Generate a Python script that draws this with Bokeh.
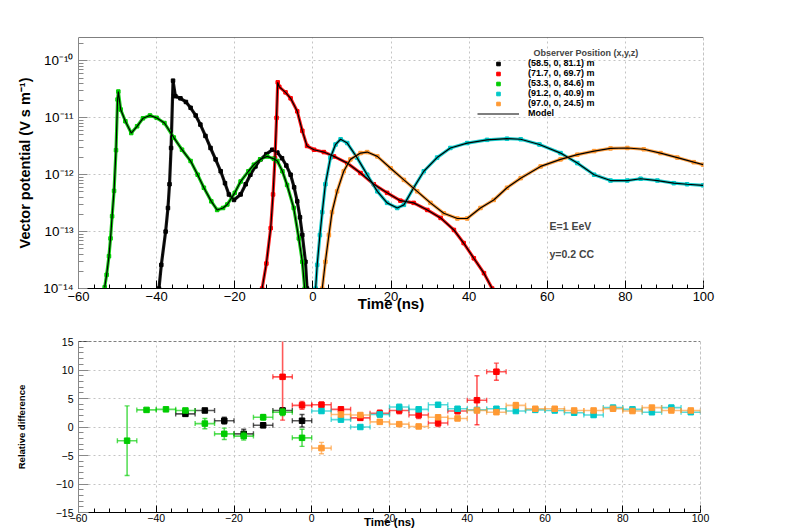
from bokeh.plotting import figure
from bokeh.models import (ColumnDataSource, Range1d, FixedTicker, CustomJSTickFormatter,
                          Legend, LegendItem, Label, Span)
from bokeh.layouts import column
from bokeh.embed import file_html
from bokeh.resources import INLINE

FONT = "Liberation Sans"

# ---------------- data ----------------
observers = ["(58.5, 0, 81.1) m", "(71.7, 0, 69.7) m", "(53.3, 0, 84.6) m",
             "(91.2, 0, 40.9) m", "(97.0, 0, 24.5) m"]
colors = ["#000000", "#ff0000", "#00cc00", "#00c8c8", "#ff9933"]

# top panel: time (ns) and vector potential (V s m^-1)
t_obs1 = [-39.4, -38.8, -37.7, -37.1, -36.7, -36.3, -35.8, -35.2, -33.9, -32.5, -31.3, -30.0,
          -28.8, -27.5, -26.2, -24.9, -23.6, -22.5, -21.5, -20.2, -18.5, -17.2, -16.0, -14.7,
          -13.4, -11.9, -10.4, -9.1, -7.9, -6.8, -5.7, -4.8, -4.0, -3.3, -2.7, -1.9, -1.5]
a_obs1 = [1.0e-14, 2.6e-14, 1.0e-13, 2.6e-13, 6.8e-13, 2.95e-12, 4.5e-11, 2.4e-11, 2.2e-11,
          1.9e-11, 1.5e-11, 1.1e-11, 7.6e-12, 4.8e-12, 2.95e-12, 1.86e-12, 1.15e-12, 7.1e-13,
          4.5e-13, 3.6e-13, 4.5e-13, 6.8e-13, 1.0e-12, 1.4e-12, 1.86e-12, 2.3e-12, 2.75e-12,
          2.45e-12, 1.95e-12, 1.45e-12, 1.0e-12, 6.0e-13, 3.4e-13, 1.78e-13, 8.7e-14, 2.95e-14,
          1.0e-14]

t_obs2 = [-13.0, -11.9, -10.8, -10.2, -9.7, -9.3, -9.0, -8.6, -7.0, -5.7, -4.0, -2.7, -1.5,
          0.3, 2.8, 5.4, 8.8, 12.2, 15.6, 19.0, 22.4, 25.8, 29.3, 32.7, 36.1, 38.6, 41.2,
          43.8, 45.9]
a_obs2 = [1.0e-14, 2.75e-14, 1.15e-13, 4.5e-13, 1.95e-12, 1.0e-11, 4.2e-11, 3.5e-11, 2.8e-11,
          2.2e-11, 1.3e-11, 5.9e-12, 3.2e-12, 2.75e-12, 2.5e-12, 2.1e-12, 1.6e-12, 1.07e-12,
          6.8e-13, 4.8e-13, 3.5e-13, 3.2e-13, 2.4e-13, 1.74e-13, 1.07e-13, 6.3e-14, 3.4e-14,
          1.86e-14, 1.0e-14]

t_obs3 = [-53.3, -52.8, -52.2, -51.8, -51.4, -50.9, -50.4, -50.0, -49.8, -49.2, -48.0, -46.5,
          -45.0, -43.5, -41.7, -40.0, -38.0, -35.6, -33.5, -31.3, -29.5, -27.9, -26.0, -24.5,
          -23.0, -21.9, -20.0, -18.5, -16.5, -15.1, -13.5, -11.7, -10.0, -9.1, -7.8, -6.6,
          -4.9, -3.6, -2.7, -2.1]
a_obs3 = [1.05e-14, 1.74e-14, 3.7e-14, 7.6e-14, 1.86e-13, 5.2e-13, 2.7e-12, 2.1e-11, 2.9e-11,
          1.4e-11, 8.7e-12, 5.4e-12, 7.1e-12, 9.8e-12, 1.1e-11, 1.0e-11, 8.1e-12, 4.5e-12,
          2.75e-12, 1.74e-12, 1.0e-12, 5.9e-13, 3.4e-13, 2.4e-13, 2.6e-13, 3.0e-13, 4.8e-13,
          7.6e-13, 1.15e-12, 1.5e-12, 1.86e-12, 2.1e-12, 1.9e-12, 1.74e-12, 1.15e-12, 6.6e-13,
          2.6e-13, 7.6e-14, 2.95e-14, 1.0e-14]

t_obs4 = [0.7, 1.1, 1.8, 2.4, 3.2, 4.5, 5.8, 7.1, 8.8, 11.3, 13.9, 16.5, 19.0, 21.6, 23.3,
          25.8, 28.4, 31.8, 35.2, 39.5, 44.6, 49.7, 53.2, 58.0, 63.4, 67.7, 72.0, 76.2, 80.5,
          83.9, 88.2, 92.4, 95.8, 99.9]
a_obs4 = [1.0e-14, 2.6e-14, 8.7e-14, 2.2e-13, 6.8e-13, 2.0e-12, 3.4e-12, 4.2e-12, 3.6e-12,
          2.0e-12, 1.0e-12, 5.1e-13, 3.2e-13, 2.6e-13, 2.95e-13, 5.9e-13, 1.15e-12, 2.0e-12,
          2.95e-12, 3.6e-12, 4.1e-12, 4.3e-12, 4.2e-12, 3.4e-12, 2.4e-12, 1.6e-12, 1.0e-12,
          7.9e-13, 7.9e-13, 8.5e-13, 7.9e-13, 7.1e-13, 6.8e-13, 6.5e-13]

t_obs5 = [2.4, 3.2, 4.1, 4.9, 6.2, 7.9, 9.6, 12.2, 13.9, 16.5, 19.9, 23.3, 26.7, 30.1, 33.5,
          37.0, 39.5, 42.9, 46.3, 49.7, 53.2, 58.3, 63.4, 67.7, 72.0, 76.2, 80.5, 84.7, 89.0,
          93.3, 97.5, 99.9]
a_obs5 = [1.0e-14, 2.95e-14, 8.7e-14, 2.2e-13, 5.1e-13, 1.15e-12, 1.86e-12, 2.4e-12, 2.5e-12,
          2.1e-12, 1.3e-12, 8.1e-13, 5.1e-13, 3.2e-13, 2.1e-13, 1.7e-13, 1.7e-13, 2.6e-13,
          3.6e-13, 5.9e-13, 8.7e-13, 1.4e-12, 1.86e-12, 2.25e-12, 2.6e-12, 2.9e-12, 2.95e-12,
          2.8e-12, 2.4e-12, 2.0e-12, 1.66e-12, 1.5e-12]

# bottom panel: relative difference per 5 ns bin (bin centre, value, error)
bin_half_width = 2.5
rt_obs1 = [-32.5, -27.5, -22.5, -17.5, -12.5, -7.5, -2.5]
rd_obs1 = [2.3, 2.9, 1.1, -1.2, 0.3, 2.9, 1.1]
re_obs1 = [0.3, 0.3, 0.6, 0.8, 0.4, 0.4, 1.1]

rt_obs2 = [-7.5, -2.5, 2.5, 7.5, 12.5, 17.5, 22.5, 27.5, 32.5, 37.5, 42.5, 47.5]
rd_obs2 = [8.8, 3.8, 3.9, 3.1, 1.6, 2.4, 2.9, 2.1, 0.7, 2.8, 4.7, 9.7]
re_obs2 = [7.6, 0.7, 0.5, 0.4, 0.4, 0.6, 0.6, 0.6, 0.6, 0.5, 4.3, 1.5]

rt_obs3 = [-47.5, -42.5, -37.5, -32.5, -27.5, -22.5, -17.5, -12.5, -7.5, -2.5]
rd_obs3 = [-2.4, 3.0, 3.1, 2.9, 0.6, -1.2, -1.6, 1.7, 2.6, -1.9]
re_obs3 = [6.1, 0.3, 0.3, 0.3, 0.9, 1.0, 0.7, 0.5, 0.6, 1.5]

rt_obs4 = [2.5, 7.5, 12.5, 17.5, 22.5, 27.5, 32.5, 37.5, 42.5, 47.5, 52.5, 57.5, 62.5, 67.5,
           72.5, 77.5, 82.5, 87.5, 92.5, 97.5]
rd_obs4 = [2.8, 1.3, 0.0, 2.2, 3.5, 3.1, 3.9, 3.2, 3.0, 3.2, 2.8, 3.0, 2.9, 2.5, 2.1, 3.4,
           3.1, 2.6, 3.4, 2.6]
re_obs4 = [0.4, 0.4, 0.3, 0.4, 0.5, 0.4, 0.2, 0.3, 0.3, 0.3, 0.2, 0.2, 0.3, 0.3, 0.4, 0.3,
           0.3, 0.4, 0.4, 0.3]

rt_obs5 = [2.5, 7.5, 12.5, 17.5, 22.5, 27.5, 32.5, 37.5, 42.5, 47.5, 52.5, 57.5, 62.5, 67.5,
           72.5, 77.5, 82.5, 87.5, 92.5, 97.5]
rd_obs5 = [-3.7, 2.2, 2.1, 0.9, 0.5, 0.1, 1.7, 1.5, 2.9, 2.6, 3.8, 3.2, 3.2, 2.9, 2.9, 3.2,
           2.8, 3.4, 2.9, 2.9]
re_obs5 = [1.0, 0.4, 0.3, 0.3, 0.3, 0.3, 0.3, 0.3, 0.3, 0.3, 0.5, 0.3, 0.3, 0.3, 0.3, 0.3,
           0.3, 0.3, 0.3, 0.3]

x_ticks = [-60, -40, -20, 0, 20, 40, 60, 80, 100]
y_ticks_top = [1e-14, 1e-13, 1e-12, 1e-11, 1e-10]
y_ticks_bottom = [-15, -10, -5, 0, 5, 10, 15]

top_series = [(t_obs1, a_obs1), (t_obs2, a_obs2), (t_obs3, a_obs3), (t_obs4, a_obs4), (t_obs5, a_obs5)]
bottom_series = [(rt_obs1, rd_obs1, re_obs1), (rt_obs2, rd_obs2, re_obs2), (rt_obs3, rd_obs3, re_obs3),
                 (rt_obs4, rd_obs4, re_obs4), (rt_obs5, rd_obs5, re_obs5)]

# ---------------- styling helpers ----------------
def style_axis(ax, color, major_in, minor_in, font_size):
    ax.axis_line_color = color
    ax.major_tick_line_color = color
    ax.minor_tick_line_color = color
    ax.major_tick_in = major_in
    ax.major_tick_out = 0
    ax.minor_tick_in = minor_in
    ax.minor_tick_out = 0
    ax.major_label_text_font = FONT
    ax.major_label_text_font_size = font_size
    ax.major_label_text_color = "black"
    ax.axis_label_text_font = FONT
    ax.axis_label_text_font_style = "bold"
    ax.axis_label_text_color = "black"


def style_grid(p):
    for g in (p.xgrid, p.ygrid):
        g.grid_line_color = "#c4c4c4"
        g.grid_line_dash = "2 3"
        g.grid_line_width = 1


# ---------------- top panel ----------------
p1 = figure(frame_width=625, frame_height=251, min_border_left=78, min_border_right=65,
            min_border_top=37, min_border_bottom=25,
            x_range=Range1d(-60, 100), y_range=Range1d(1e-14, 2.58e-10), y_axis_type="log",
            output_backend="svg", toolbar_location=None)
p1.outline_line_color = None
p1.background_fill_color = "white"
p1.border_fill_color = "white"
style_grid(p1)

minor_x = list(range(-60, 101, 4))
p1.xaxis.ticker = FixedTicker(ticks=x_ticks, minor_ticks=minor_x)
minor_y = [k * 10.0 ** e for e in range(-14, -9) for k in range(2, 10)]
p1.yaxis.ticker = FixedTicker(ticks=y_ticks_top, minor_ticks=minor_y)
p1.yaxis.formatter = CustomJSTickFormatter(code="""
const e = Math.round(Math.log10(tick));
const m = {"-": "\u207b", "0": "\u2070", "1": "\u00b9", "2": "\u00b2", "3": "\u00b3",
           "4": "\u2074", "5": "\u2075", "6": "\u2076", "7": "\u2077", "8": "\u2078", "9": "\u2079"};
return "10" + String(e).split("").map(c => m[c]).join("");
""")
style_axis(p1.xaxis[0], "black", 8, 4, "13px")
style_axis(p1.yaxis[0], "#888888", 9, 5, "13.5px")
p1.xaxis.major_label_standoff = 3
p1.yaxis.major_label_standoff = 5
p1.xaxis.axis_label = "Time (ns)"
p1.xaxis.axis_label_text_font_size = "15px"
p1.xaxis.axis_label_standoff = -9
p1.yaxis.axis_label = "Vector potential (V s m\u207b\u00b9)"
p1.yaxis.axis_label_text_font_size = "14.5px"
p1.yaxis.axis_label_standoff = 7

point_renderers = []
model_renderers = []
sources = []
for (t, a), c in zip(top_series, colors):
    src = ColumnDataSource(dict(t=t, a=a))
    sources.append(src)
    p1.line("t", "a", source=src, line_color=c, line_width=3.2, line_alpha=0.9)
    r = p1.scatter("t", "a", source=src, marker="square", size=3.5, color=c)
    point_renderers.append(r)
for src in sources:
    m = p1.line("t", "a", source=src, line_color="black", line_width=1.2)
    model_renderers.append(m)

p1.add_layout(Span(location=100, dimension="height", line_color="#888888",
                   line_dash="3 2", line_width=1))
p1.add_layout(Span(location=2.58e-10, dimension="width", line_color="black", line_width=1.2))

items = [LegendItem(label=lab, renderers=[r]) for lab, r in zip(observers, point_renderers)]
items.append(LegendItem(label="Model", renderers=[model_renderers[0]]))
legend = Legend(items=items, location=(399, 170), orientation="vertical",
                glyph_width=42, glyph_height=9, label_height=9, spacing=0,
                padding=0, margin=0, label_standoff=9,
                border_line_color=None, background_fill_alpha=0.0,
                label_text_font=FONT, label_text_font_style="bold",
                label_text_font_size="9px", label_text_color="black")
p1.add_layout(legend)

p1.add_layout(Label(x=455, y=236, x_units="screen", y_units="screen",
                    text="Observer Position (x,y,z)", text_font=FONT,
                    text_font_style="bold", text_font_size="9px", text_baseline="middle"))
p1.add_layout(Label(x=471, y=63, x_units="screen", y_units="screen", text="E=1 EeV",
                    text_font=FONT, text_font_style="bold", text_font_size="10.5px",
                    text_baseline="middle"))
p1.add_layout(Label(x=471, y=35, x_units="screen", y_units="screen", text="y=0.2 CC",
                    text_font=FONT, text_font_style="bold", text_font_size="10.5px",
                    text_baseline="middle"))

# ---------------- bottom panel ----------------
p2 = figure(frame_width=622, frame_height=171, min_border_left=78, min_border_right=68,
            min_border_top=27, min_border_bottom=17,
            x_range=Range1d(-60, 100), y_range=Range1d(-15, 15),
            output_backend="svg", toolbar_location=None)
p2.outline_line_color = None
p2.background_fill_color = "white"
p2.border_fill_color = "white"
style_grid(p2)
p2.xaxis.ticker = FixedTicker(ticks=x_ticks, minor_ticks=minor_x)
p2.yaxis.ticker = FixedTicker(ticks=y_ticks_bottom, minor_ticks=list(range(-15, 16)))
style_axis(p2.xaxis[0], "black", 7, 4, "10.5px")
style_axis(p2.yaxis[0], "#888888", 10, 5, "10.5px")
p2.xaxis.major_label_standoff = 1
p2.yaxis.major_label_standoff = 5
p2.xaxis.axis_label = "Time (ns)"
p2.xaxis.axis_label_text_font_size = "11.5px"
p2.xaxis.axis_label_standoff = -9
p2.yaxis.axis_label = "Relative difference"
p2.yaxis.axis_label_text_font_size = "9.5px"
p2.yaxis.axis_label_standoff = 26

p2.add_layout(Span(location=15, dimension="width", line_color="black",
                   line_dash="3 2", line_width=1))
p2.add_layout(Span(location=100, dimension="height", line_color="#888888",
                   line_dash="3 2", line_width=1))

for (t, d, e), c in zip(bottom_series, colors):
    src = ColumnDataSource(dict(
        t=t, d=d,
        lo=[v - s for v, s in zip(d, e)], hi=[v + s for v, s in zip(d, e)],
        tl=[x - bin_half_width for x in t], tr=[x + bin_half_width for x in t]))
    p2.segment("tl", "d", "tr", "d", source=src, line_color=c, line_width=1.6, line_alpha=0.65)
    p2.segment("t", "lo", "t", "hi", source=src, line_color=c, line_width=1.6, line_alpha=0.65)
    p2.scatter("t", "lo", source=src, marker="dash", size=5, line_color=c, line_alpha=0.65, line_width=1.4)
    p2.scatter("t", "hi", source=src, marker="dash", size=5, line_color=c, line_alpha=0.65, line_width=1.4)
    p2.scatter("tl", "d", source=src, marker="dash", size=5, angle=1.5708, line_color=c, line_alpha=0.65, line_width=1.4)
    p2.scatter("tr", "d", source=src, marker="dash", size=5, angle=1.5708, line_color=c, line_alpha=0.65, line_width=1.4)
    p2.scatter("t", "d", source=src, marker="square", size=5.5, color=c)

layout = column(p1, p2, spacing=0)
open("out.html", "w").write(file_html(layout, INLINE))
